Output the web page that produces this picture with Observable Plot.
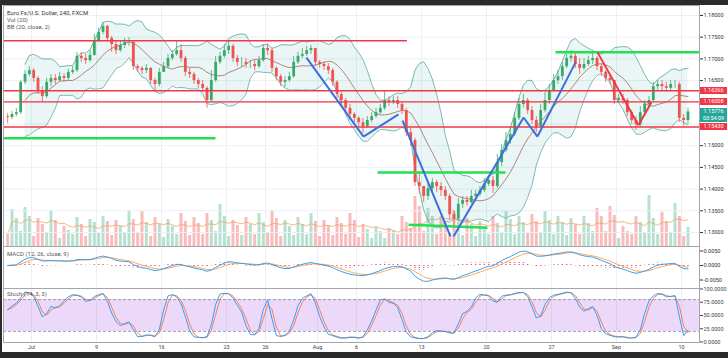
<!DOCTYPE html>
<html><head><meta charset="utf-8">
<script src="https://cdn.jsdelivr.net/npm/d3@7"></script>
<script src="https://cdn.jsdelivr.net/npm/@observablehq/plot@0.6"></script>
<style>
html,body{margin:0;padding:0;background:#2b2b2b;width:728px;height:358px;overflow:hidden;font-family:Roboto,"Liberation Sans",sans-serif;}
#panel{position:absolute;left:2px;top:5px;width:726px;height:347px;background:#fff;}
.pane{position:absolute;left:0;}
.lbl{position:absolute;font-size:6px;color:#555;white-space:nowrap;line-height:1;}
.tag{position:absolute;left:700px;width:27px;height:7px;font-size:5.5px;line-height:7px;color:#fff;text-align:center;}
</style></head><body>
<div id="panel"></div>
<script>
// ---- data (8-hour candles; trading-day index 0 = Mon 2 Jul 2018) ----
const firstDay = -2;
const barsPerDay = 3;
const firstOpen = 1.1567;
const closes = [1.1565,1.1572,1.1576,1.1646,1.1664,1.1673,1.1655,1.1627,1.1613,1.1646,
 1.1655,1.1650,1.1659,1.1655,1.1669,1.1673,1.1706,1.1701,1.1696,1.1708,
 1.1742,1.1761,1.1775,1.1747,1.1733,1.1719,1.1731,1.1738,1.1738,1.1682,
 1.1678,1.1673,1.1678,1.1650,1.1641,1.1669,1.1682,1.1701,1.1710,1.1719,
 1.1701,1.1669,1.1664,1.1650,1.1641,1.1632,1.1604,1.1650,1.1692,1.1706,
 1.1719,1.1729,1.1701,1.1692,1.1692,1.1687,1.1687,1.1682,1.1696,1.1724,
 1.1719,1.1678,1.1659,1.1646,1.1650,1.1659,1.1692,1.1706,1.1710,1.1719,
 1.1724,1.1692,1.1687,1.1682,1.1673,1.1646,1.1618,1.1604,1.1586,1.1572,
 1.1563,1.1553,1.1544,1.1558,1.1567,1.1576,1.1586,1.1604,1.1600,1.1604,
 1.1595,1.1581,1.1530,1.1512,1.1415,1.1406,1.1383,1.1401,1.1415,1.1406,
 1.1397,1.1383,1.1341,1.1332,1.1365,1.1374,1.1369,1.1383,1.1388,1.1397,
 1.1411,1.1420,1.1406,1.1461,1.1489,1.1512,1.1526,1.1563,1.1595,1.1604,
 1.1581,1.1558,1.1544,1.1581,1.1604,1.1627,1.1650,1.1659,1.1682,1.1701,
 1.1706,1.1687,1.1678,1.1687,1.1696,1.1701,1.1682,1.1669,1.1655,1.1650,
 1.1604,1.1609,1.1604,1.1576,1.1558,1.1549,1.1576,1.1595,1.1604,1.1636,
 1.1641,1.1636,1.1632,1.1641,1.1641,1.1563,1.1558,1.15776];
const highs = [1.1574,1.1579,1.1586,1.1650,1.1673,1.1682,1.1678,1.1659,1.1636,1.1655,
 1.1664,1.1664,1.1669,1.1666,1.1676,1.1682,1.1715,1.1715,1.1710,1.1719,
 1.1756,1.1770,1.1784,1.1777,1.1752,1.1742,1.1742,1.1747,1.1749,1.1742,
 1.1687,1.1682,1.1687,1.1680,1.1655,1.1678,1.1692,1.1710,1.1719,1.1742,
 1.1733,1.1706,1.1678,1.1669,1.1655,1.1650,1.1636,1.1673,1.1706,1.1715,
 1.1733,1.1742,1.1733,1.1708,1.1703,1.1701,1.1696,1.1696,1.1706,1.1733,
 1.1735,1.1724,1.1682,1.1664,1.1659,1.1669,1.1706,1.1715,1.1724,1.1729,
 1.1731,1.1724,1.1696,1.1694,1.1689,1.1678,1.1650,1.1623,1.1609,1.1595,
 1.1576,1.1567,1.1563,1.1567,1.1576,1.1586,1.1595,1.1627,1.1613,1.1613,
 1.1613,1.1600,1.1586,1.1540,1.1517,1.1438,1.1406,1.1415,1.1424,1.1420,
 1.1415,1.1406,1.1388,1.1351,1.1378,1.1383,1.1383,1.1397,1.1397,1.1406,
 1.1424,1.1429,1.1429,1.1480,1.1503,1.1530,1.1540,1.1576,1.1609,1.1618,
 1.1609,1.1590,1.1567,1.1595,1.1623,1.1641,1.1664,1.1673,1.1692,1.1710,
 1.1719,1.1715,1.1701,1.1701,1.1706,1.1715,1.1706,1.1687,1.1673,1.1664,
 1.1650,1.1618,1.1618,1.1609,1.1581,1.1567,1.1590,1.1604,1.1613,1.1646,
 1.1650,1.1650,1.1646,1.1650,1.1650,1.1646,1.1572,1.1586];
const lows = [1.1551,1.1560,1.1567,1.1572,1.1641,1.1659,1.1646,1.1618,1.1600,1.1609,
 1.1636,1.1641,1.1646,1.1646,1.1650,1.1664,1.1669,1.1692,1.1687,1.1692,
 1.1706,1.1738,1.1756,1.1738,1.1715,1.1710,1.1715,1.1724,1.1729,1.1673,
 1.1669,1.1664,1.1666,1.1641,1.1627,1.1636,1.1669,1.1678,1.1696,1.1706,
 1.1692,1.1659,1.1655,1.1641,1.1632,1.1623,1.1586,1.1600,1.1646,1.1687,
 1.1701,1.1710,1.1692,1.1682,1.1680,1.1678,1.1678,1.1673,1.1678,1.1692,
 1.1708,1.1669,1.1650,1.1636,1.1634,1.1646,1.1655,1.1687,1.1701,1.1706,
 1.1710,1.1682,1.1678,1.1673,1.1664,1.1636,1.1609,1.1595,1.1576,1.1558,
 1.1553,1.1544,1.1528,1.1540,1.1553,1.1563,1.1572,1.1581,1.1590,1.1595,
 1.1586,1.1572,1.1521,1.1498,1.1406,1.1388,1.1369,1.1374,1.1392,1.1392,
 1.1383,1.1374,1.1328,1.1309,1.1328,1.1355,1.1360,1.1365,1.1374,1.1383,
 1.1392,1.1406,1.1390,1.1401,1.1452,1.1484,1.1503,1.1521,1.1558,1.1586,
 1.1572,1.1549,1.1530,1.1540,1.1576,1.1595,1.1623,1.1641,1.1650,1.1678,
 1.1692,1.1678,1.1664,1.1673,1.1682,1.1687,1.1673,1.1659,1.1646,1.1641,
 1.1595,1.1597,1.1595,1.1567,1.1549,1.1535,1.1544,1.1567,1.1586,1.1600,
 1.1627,1.1627,1.1623,1.1627,1.1632,1.1553,1.1544,1.1549];
// volume, thousand ticks
const volumes = [12,37,28, 15,39,30, 10,28,22, 14,36,26, 8,20,16, 12,29,22, 10,27,24, 13,30,25,
 11,26,20, 14,36,27, 13,35,24, 10,29,22, 9,27,20, 12,33,25, 11,29,23, 12,33,26, 15,42,30,
 10,26,21, 11,29,22, 12,33,24, 14,36,28, 10,26,20, 11,29,22, 12,33,25, 10,26,21, 11,29,23,
 12,33,26, 9,22,17, 8,19,15, 8,18,16, 12,30,24, 18,50,40, 15,38,30, 12,30,24, 14,35,28,
 11,28,22, 10,25,20, 12,30,23, 14,35,27, 12,30,24, 13,32,25, 14,35,26, 12,30,24, 11,28,22,
 12,30,23, 15,38,30, 15,40,31, 8,20,15, 12,30,24, 13,51,28, 12,34,25, 14,43,30, 10,19];

const priceTicks = [1.13,1.135,1.14,1.145,1.15,1.155,1.16,1.165,1.17,1.175,1.18];
const macdTicks = [-0.005, 0, 0.005];
const stochTicks = [0, 25, 50, 75, 100];
const stochBand = [20, 80];
const xTickDays = [0,5,10,15,18,22,25,30,35,40,45,50];
const xTickLabels = ["Jul","9","16","23","26","Aug","6","13","20","27","Sep","10"];

// drawn levels and trend lines (trading-day, price)
const redLevels = [1.16266, 1.16008, 1.15430];
const topRed = [{p: 1.1742, d0: -2.154, d1: 28.92}];
const greenLines = [
  {d0: -2.154, p0: 1.1517, d1: 14.15, p1: 1.1517},
  {d0: 40.31, p0: 1.1715, d1: 51.385, p1: 1.1715},
  {d0: 26.62, p0: 1.1438, d1: 36.46, p1: 1.1438},
  {d0: 29.0, p0: 1.1318, d1: 35.08, p1: 1.1311}
];
const blueLines = [
  {d0: 21.15, p0: 1.1703, d1: 25.54, p1: 1.1521},
  {d0: 25.54, p0: 1.1521, d1: 28.23, p1: 1.1572},
  {d0: 28.54, p0: 1.1558, d1: 32.23, p1: 1.1291},
  {d0: 32.46, p0: 1.1291, d1: 37.85, p1: 1.1565},
  {d0: 37.85, p0: 1.1565, d1: 38.92, p1: 1.1521},
  {d0: 38.92, p0: 1.1521, d1: 41.85, p1: 1.1692}
];
const redTrend = [
  {d0: 43.54, p0: 1.1715, d1: 46.69, p1: 1.1547},
  {d0: 46.69, p0: 1.1547, d1: 47.69, p1: 1.1600}
];
const lastPrice = 1.15776;
const countdown = "03:54:09";

// ---- derived ----
const xDomain = [-2.154, 51.385];
const priceDomain = [1.12677, 1.1823];
const UP = "#3aa86b", DOWN = "#ef5350";
const bars = closes.map((c, i) => {
  const open = i === 0 ? firstOpen : closes[i - 1];
  return {d: firstDay + (i + 0.5) / barsPerDay, open, close: c,
    high: Math.max(highs[i], open, c), low: Math.min(lows[i], open, c),
    vol: volumes[i], up: c >= open};
});
// BB(20) on 4h bars == 10 bars of 8h
const bbN = 10;
const bb = [];
bars.forEach((b, i) => {
  if (i < 4) return;
  const w = closes.slice(Math.max(0, i - bbN + 1), i + 1);
  const m = d3.mean(w), sd = Math.sqrt(d3.mean(w, v => (v - m) ** 2));
  bb.push({d: b.d, mid: m, up: m + 2 * sd, lo: m - 2 * sd});
});
const volMA = bars.map((b, i) => ({d: b.d, ma: d3.mean(volumes.slice(Math.max(0, i - bbN + 1), i + 1))}));
function ema(arr, n) { const k = 2 / (n + 1); let e = arr[0]; return arr.map(v => (e = v * k + e * (1 - k))); }
const eF = ema(closes, 6), eS = ema(closes, 13);
const macdV = closes.map((c, i) => eF[i] - eS[i]);
const sigV = ema(macdV, 4.5);
const macd = bars.map((b, i) => ({d: b.d, m: macdV[i], s: sigV[i], h: macdV[i] - sigV[i]}));
const kRaw = bars.map((b, i) => {
  const w = bars.slice(Math.max(0, i - 6), i + 1);
  const hh = d3.max(w, x => x.high), ll = d3.min(w, x => x.low);
  return hh > ll ? (b.close - ll) / (hh - ll) * 100 : 50;
});
const sm = a => a.map((v, i) => i === 0 ? v : (v + a[i - 1]) / 2);
const kS = sm(kRaw), dS = sm(kS);
const stoch = bars.map((b, i) => ({d: b.d, k: kS[i], dd: dS[i]}));

// tick labels hidden behind the price tags (as in the reference)
const tagPrices = [...redLevels, lastPrice];
const labelTicks = priceTicks.filter(p => !tagPrices.some(t => Math.abs(t - p) < 0.0013));

const baseStyle = {background: "transparent", fontSize: "5.5px", fontFamily: "Roboto, sans-serif", color: "#333", overflow: "visible"};
const GRID = "#edeff3", FRAME = "#a3a6ad";
function place(svg, top) { const d = document.createElement("div"); d.className = "pane"; d.style.top = top + "px"; d.appendChild(svg); document.body.appendChild(d); }

// volume (behind price)
const volPlot = Plot.plot({
  width: 728, height: 241, marginLeft: 3, marginRight: 29, marginTop: 0, marginBottom: 0, style: baseStyle,
  x: {domain: xDomain, axis: null}, y: {domain: [0, 241], axis: null},
  marks: [
    Plot.ruleX(xTickDays, {stroke: GRID}),
    Plot.ruleX(bars.filter(b => b.up), {x: "d", y1: 0, y2: "vol", stroke: "#b6e0cf", strokeWidth: 3}),
    Plot.ruleX(bars.filter(b => !b.up), {x: "d", y1: 0, y2: "vol", stroke: "#f8bcbc", strokeWidth: 3}),
    Plot.line(volMA, {x: "d", y: "ma", stroke: "#f3a46a", strokeWidth: 0.8})
  ]
});
place(volPlot, 5);

const main = Plot.plot({
  width: 728, height: 241, marginLeft: 3, marginRight: 29, marginTop: 0, marginBottom: 0, style: baseStyle,
  x: {domain: xDomain, axis: null},
  y: {domain: priceDomain, axis: "right", ticks: labelTicks, tickFormat: d3.format(".5f"), tickSize: 3, tickPadding: 1, label: null},
  marks: [
    Plot.ruleY(priceTicks, {stroke: GRID}),
    Plot.areaY(bb, {x: "d", y1: "lo", y2: "up", fill: "#26a69a", fillOpacity: 0.1}),
    Plot.line(bb, {x: "d", y: "up", stroke: "#5aa6a2", strokeWidth: 0.8}),
    Plot.line(bb, {x: "d", y: "lo", stroke: "#5aa6a2", strokeWidth: 0.8}),
    Plot.line(bb, {x: "d", y: "mid", stroke: "#a26a62", strokeWidth: 0.8}),
    Plot.ruleX(bars.filter(b => b.up), {x: "d", y1: "low", y2: "high", stroke: UP, strokeWidth: 0.8}),
    Plot.ruleX(bars.filter(b => !b.up), {x: "d", y1: "low", y2: "high", stroke: DOWN, strokeWidth: 0.8}),
    Plot.ruleX(bars.filter(b => b.up), {x: "d", y1: "open", y2: "close", stroke: UP, strokeWidth: 2.8}),
    Plot.ruleX(bars.filter(b => !b.up), {x: "d", y1: "open", y2: "close", stroke: DOWN, strokeWidth: 2.8}),
    Plot.ruleY(topRed, {y: "p", x1: "d0", x2: "d1", stroke: "#f23645", strokeWidth: 1.5}),
    Plot.ruleY(redLevels, {stroke: "#f23645", strokeWidth: 1.3}),
    Plot.link(greenLines, {x1: "d0", y1: "p0", x2: "d1", y2: "p1", stroke: "#22e04f", strokeWidth: 2.5}),
    Plot.link(blueLines, {x1: "d0", y1: "p0", x2: "d1", y2: "p1", stroke: "#3d6fdc", strokeWidth: 2}),
    Plot.link(redTrend, {x1: "d0", y1: "p0", x2: "d1", y2: "p1", stroke: "#f23645", strokeWidth: 2}),
    Plot.frame({stroke: FRAME})
  ]
});
place(main, 5);

const fmt4 = v => (v < 0 ? "-" : "") + Math.abs(v).toFixed(4);
const macdPlot = Plot.plot({
  width: 728, height: 42, marginLeft: 3, marginRight: 29, marginTop: 0, marginBottom: 0, style: baseStyle,
  x: {domain: xDomain, axis: null},
  y: {domain: [-0.00793, 0.00655], axis: "right", ticks: macdTicks, tickFormat: fmt4, tickSize: 3, tickPadding: 1, label: null},
  marks: [
    Plot.ruleX(xTickDays, {stroke: GRID}),
    Plot.ruleX(macd, {x: "d", y1: 0, y2: "h", stroke: "#e0568a", strokeWidth: 1.4, strokeDasharray: "1,1"}),
    Plot.line(macd, {x: "d", y: "s", stroke: "#ff9f43", strokeWidth: 0.9}),
    Plot.line(macd, {x: "d", y: "m", stroke: "#2196f3", strokeWidth: 0.9}),
    Plot.frame({stroke: FRAME})
  ]
});
place(macdPlot, 246);

const stochPlot = Plot.plot({
  width: 728, height: 64, marginLeft: 3, marginRight: 29, marginTop: 0, marginBottom: 10, style: {...baseStyle, color: "#444"},
  x: {domain: xDomain, ticks: xTickDays, tickFormat: d => xTickLabels[xTickDays.indexOf(d)], tickSize: 0, tickPadding: 3, label: null},
  y: {domain: [-1, 101], axis: "right", ticks: stochTicks, tickFormat: v => v.toFixed(4), tickSize: 3, tickPadding: 1, label: null},
  marks: [
    Plot.ruleX(xTickDays, {stroke: GRID}),
    Plot.rect([0], {x1: xDomain[0], x2: xDomain[1], y1: stochBand[0], y2: stochBand[1], fill: "#a040e0", fillOpacity: 0.2}),
    Plot.ruleY(stochBand, {stroke: "#8a8a9a", strokeWidth: 0.8, strokeDasharray: "3,2"}),
    Plot.line(stoch, {x: "d", y: "dd", stroke: "#f4774c", strokeWidth: 0.9}),
    Plot.line(stoch, {x: "d", y: "k", stroke: "#2196f3", strokeWidth: 0.9}),
    Plot.frame({stroke: FRAME})
  ]
});
place(stochPlot, 288);

// texts
function lbl(text, left, top, color) { const d = document.createElement("div"); d.className = "lbl"; d.textContent = text; d.style.left = left + "px"; d.style.top = top + "px"; if (color) d.style.color = color; document.body.appendChild(d); }
lbl("Euro Fx/U.S. Dollar, 240, FXCM", 7, 9.5, "#333");
lbl("Vol (20)", 7, 17);
lbl("BB (20, close, 2)", 7, 24);
lbl("MACD (12, 26, close, 9)", 7, 251);
lbl("Stoch (14, 3, 3)", 7, 291);

const ys = main.scale("y");
function tag(text, top, bg) { const d = document.createElement("div"); d.className = "tag"; d.textContent = text; d.style.top = top + "px"; d.style.background = bg; document.body.appendChild(d); }
redLevels.forEach(v => tag(v.toFixed(5), 5 + ys.apply(v) - 3.5, "#f23645"));
tag(lastPrice.toFixed(5), 5 + ys.apply(lastPrice) - 3.5, "#26a69a");
tag(countdown, 5 + ys.apply(lastPrice) + 3.7, "#26a69a");
</script></body></html>
